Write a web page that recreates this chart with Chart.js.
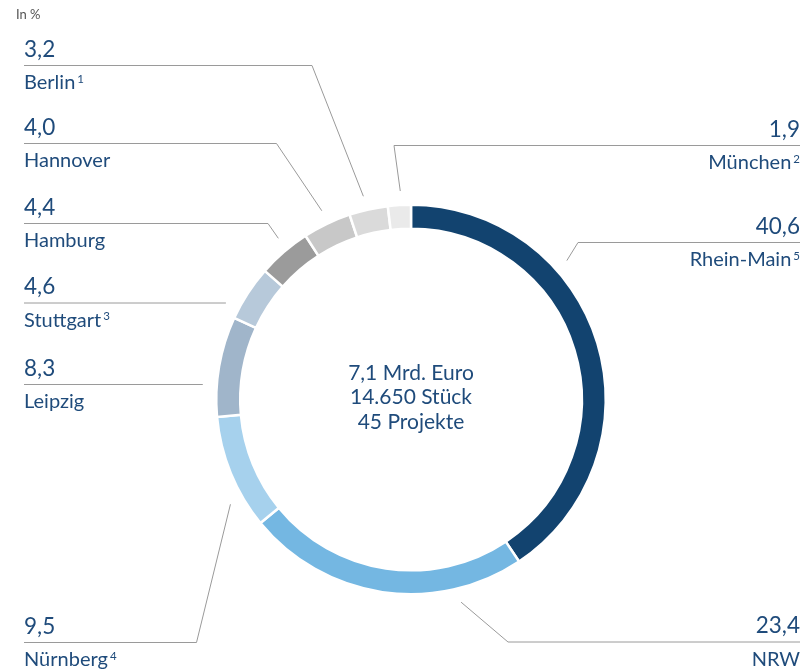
<!DOCTYPE html>
<html>
<head>
<meta charset="utf-8">
<script src="https://cdn.jsdelivr.net/npm/chart.js@4.4.1/dist/chart.umd.min.js"></script>
<style>
  html, body { margin: 0; padding: 0; background: #fff; }
  #wrap { position: relative; width: 803px; height: 670px; }
</style>
</head>
<body>
<div id="wrap"><canvas id="chart" width="803" height="670"></canvas></div>
<script>
// --- data ---
const regions = ['Rhein-Main', 'NRW', 'Nürnberg', 'Leipzig', 'Stuttgart', 'Hamburg', 'Hannover', 'Berlin', 'München'];
const footnotes = ['5', '', '4', '', '3', '', '', '1', '2'];
const shares = [40.6, 23.4, 9.5, 8.3, 4.6, 4.4, 4.0, 3.2, 1.9];
const sliceColors = ['#12436f', '#74b7e2', '#a6d1ed', '#a0b5ca', '#b7c9da', '#9b9b9b', '#c8c8c8', '#dadada', '#eaeaea'];
const centerLines = ['7,1 Mrd. Euro', '14.650 Stück', '45 Projekte'];

// label layout: side, y of the rule line, elbow x (null = straight line), where the leader meets the slice
const labelLayout = [
    { side: 'right', lineY: 242.5, elbowX: 578, attach: 0.33 },
    { side: 'right', lineY: 642, elbowX: 508, attach: 0.235 },
    { side: 'left', lineY: 642.5, elbowX: 196.5, attach: 0.27 },
    { side: 'left', lineY: 384.5, elbowX: null },
    { side: 'left', lineY: 303, elbowX: null },
    { side: 'left', lineY: 223.5, elbowX: 268, attach: 0.58 },
    { side: 'left', lineY: 143.5, elbowX: 276.5, attach: 0.52 },
    { side: 'left', lineY: 65.5, elbowX: 312, attach: 0.45 },
    { side: 'right', lineY: 145.5, elbowX: 394, attach: 0.57 }
];

const FONT = 'Lato, "Noto Sans", sans-serif';
const TEXT_COLOR = '#1f4b7b';
const LINE_COLOR = '#9a9a9a';

const labelsPlugin = {
    id: 'leaderLabels',
    afterDraw(chart) {
        const ctx = chart.ctx;
        const arcs = chart.getDatasetMeta(0).data;
        ctx.save();

        // "In %"
        ctx.fillStyle = '#555';
        ctx.font = '13px ' + FONT;
        ctx.textAlign = 'left';
        ctx.textBaseline = 'alphabetic';
        ctx.fillText('In %', 16, 19);

        arcs.forEach(function(arc, i) {
            const lay = labelLayout[i];
            const cx = arc.x, cy = arc.y;
            const r = arc.outerRadius + 14;
            let ex, ey;
            if (lay.elbowX === null) {
                const dy = lay.lineY - cy;
                ex = cx + (lay.side === 'left' ? -1 : 1) * Math.sqrt(r * r - dy * dy);
                ey = lay.lineY;
            } else {
                const a = arc.startAngle + lay.attach * (arc.endAngle - arc.startAngle);
                ex = cx + Math.cos(a) * r;
                ey = cy + Math.sin(a) * r;
            }
            const edgeX = lay.side === 'left' ? 24 : 800;

            ctx.strokeStyle = LINE_COLOR;
            ctx.lineWidth = 1;
            ctx.beginPath();
            ctx.moveTo(edgeX, lay.lineY);
            if (lay.elbowX !== null) ctx.lineTo(lay.elbowX, lay.lineY);
            ctx.lineTo(ex, ey);
            ctx.stroke();

            // value
            ctx.fillStyle = TEXT_COLOR;
            ctx.textAlign = lay.side === 'left' ? 'left' : 'right';
            ctx.font = '22.5px ' + FONT;
            ctx.fillText(shares[i].toFixed(1).replace('.', ','), edgeX, lay.lineY - 9);

            // name + footnote
            const nameFont = '20px ' + FONT;
            const noteFont = '11.5px ' + FONT;
            ctx.font = nameFont;
            const nameW = ctx.measureText(regions[i]).width;
            let noteW = 0;
            if (footnotes[i]) {
                ctx.font = noteFont;
                noteW = ctx.measureText(footnotes[i]).width + 2;
            }
            const startX = lay.side === 'left' ? edgeX : edgeX - nameW - noteW;
            ctx.textAlign = 'left';
            ctx.font = nameFont;
            ctx.fillText(regions[i], startX, lay.lineY + 23.5);
            if (footnotes[i]) {
                ctx.font = noteFont;
                ctx.fillText(footnotes[i], startX + nameW + 2, lay.lineY + 17);
            }
        });

        // centre text
        const c = arcs[0];
        ctx.fillStyle = TEXT_COLOR;
        ctx.font = '21px ' + FONT;
        ctx.textAlign = 'center';
        ctx.textBaseline = 'middle';
        centerLines.forEach(function(t, k) {
            ctx.fillText(t, c.x, c.y - 26.5 + k * 24.5);
        });
        ctx.restore();
    }
};

new Chart(document.getElementById('chart'), {
    type: 'doughnut',
    data: {
        labels: regions,
        datasets: [{
            data: shares,
            backgroundColor: sliceColors,
            borderColor: '#ffffff',
            borderWidth: 2.5,
            hoverOffset: 0
        }]
    },
    options: {
        responsive: false,
        animation: false,
        cutout: '87.7%',
        layout: { padding: { left: 215, right: 196, top: 203.5, bottom: 74.5 } },
        plugins: {
            legend: { display: false },
            tooltip: { enabled: false }
        }
    },
    plugins: [labelsPlugin]
});
</script>
</body>
</html>
